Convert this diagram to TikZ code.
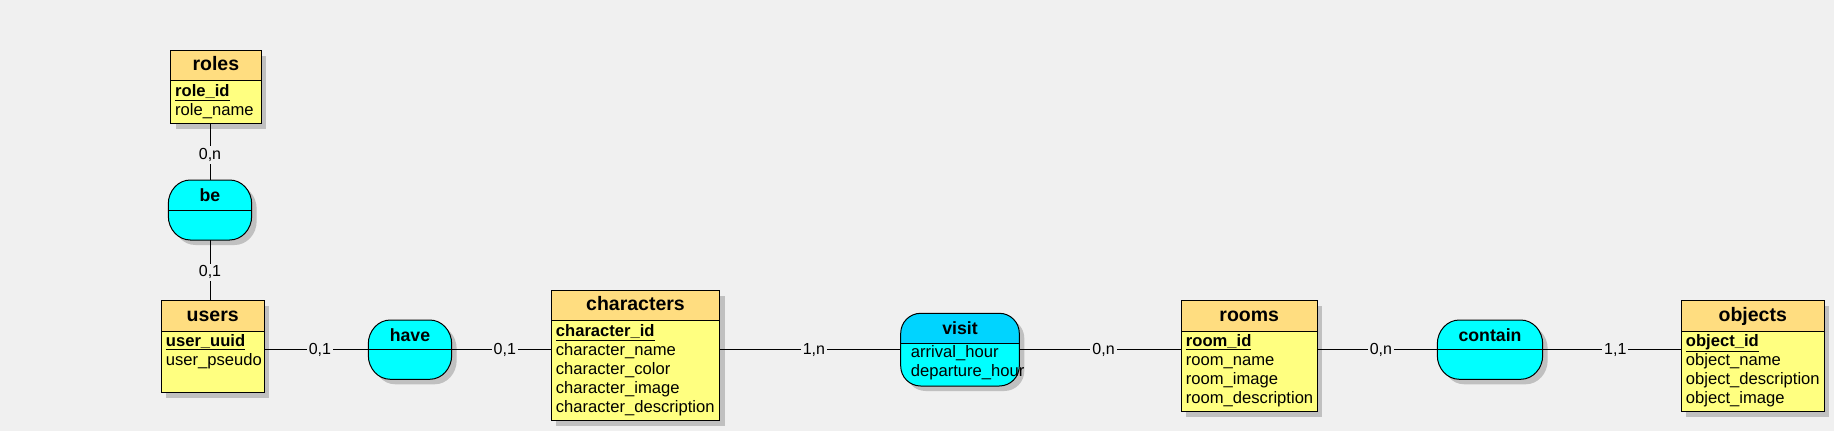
\documentclass[tikz,border=0pt]{standalone}
\usepackage{fontspec}
\setmainfont{Liberation Sans}
\usetikzlibrary{shadows,calc}
\definecolor{bg}{RGB}{240,240,240}
\definecolor{hdr}{RGB}{255,221,128}
\definecolor{bdy}{RGB}{255,255,128}
\definecolor{cy}{RGB}{0,255,255}
\definecolor{cyh}{RGB}{0,212,255}
\definecolor{shd}{RGB}{192,192,192}
\newcommand\pk[1]{\underline{\textbf{#1}}}
\newcommand\mcdent[6]{%
  \node[ebody, minimum width=#4pt, minimum height=#5pt] (#1) at (#2,#3) {};
  \node[ehead, minimum width=#4pt, minimum height=30.4pt] (#1-h) at (#1.north west) {};
  \node[etitle] (#1-t) at ($(#1.north)+(0,20.7)$) {#6};
}
% rectangle with elliptical corners: style, L, T, R, B, rx, ry
\newcommand\elrect[7]{%
  \path[#1] (#2+#6,#3) -- (#4-#6,#3)
    .. controls (#4-#6+0.5523*#6,#3) and (#4,#3+#7-0.5523*#7) .. (#4,#3+#7)
    -- (#4,#5-#7)
    .. controls (#4,#5-#7+0.5523*#7) and (#4-#6+0.5523*#6,#5) .. (#4-#6,#5)
    -- (#2+#6,#5)
    .. controls (#2+#6-0.5523*#6,#5) and (#2,#5-#7+0.5523*#7) .. (#2,#5-#7)
    -- (#2,#3+#7)
    .. controls (#2,#3+#7-0.5523*#7) and (#2+#6-0.5523*#6,#3) .. (#2+#6,#3) -- cycle;
}
% relation: name, L, T, R, B, title
\newcommand\mcdrel[6]{%
  \pgfmathsetmacro\rw{#4-#2}\pgfmathsetmacro\rh{#5-#3}%
  \pgfmathsetmacro\rcx{(#2+#4)/2}\pgfmathsetmacro\rcy{(#3+#5)/2}%
  \node[inner sep=0pt, minimum width=\rw pt, minimum height=\rh pt] (#1) at (\rcx,\rcy) {};
  \elrect{fill=shd}{#2+5}{#3+5}{#4+5}{#5+5}{22}{24}
  \elrect{draw, line width=1pt, fill=cy}{#2}{#3}{#4}{#5}{22}{24}
  \draw[line width=1pt] (#1.west) -- (#1.east);
  \node[rtitle] (#1-t) at ($(#1.north)+(0,21.2)$) {#6};
}
\begin{document}
\begin{tikzpicture}[x=1pt,y=-1pt,
  ebody/.style={draw, line width=1pt, fill=bdy, inner sep=0pt, anchor=north west,
    drop shadow={shadow xshift=5pt, shadow yshift=-5pt, fill=shd, opacity=1}},
  ehead/.style={draw, line width=1pt, fill=hdr, inner sep=0pt, anchor=north west},
  etitle/.style={anchor=base, inner sep=0pt, font=\fontsize{19.5}{22}\selectfont\bfseries},
  rtitle/.style={anchor=base, inner sep=0pt, font=\fontsize{17.7}{20}\selectfont\bfseries},
  attr/.style={anchor=base west, inner sep=0pt, font=\fontsize{16.6}{19}\selectfont},
  conn/.style={line width=1pt},
  card/.style={fill=bg, inner sep=2pt, font=\fontsize{16}{18}\selectfont}]
\fill[bg] (0,0) rectangle (1834,431);
\useasboundingbox (0,0) rectangle (1834,431);

% entities
\mcdent{roles}{170}{50}{90.7}{73.3}{roles}
\foreach \t [count=\i from 0] in {{\pk{role\_id}}, role\_name}
  \node[attr] (roles-a\i) at ($(roles-h.south west)+(5,15+19*\i)$) {\t};

\mcdent{users}{160.7}{300.3}{103}{91.7}{users}
\foreach \t [count=\i from 0] in {{\pk{user\_uuid}}, user\_pseudo}
  \node[attr] (users-a\i) at ($(users-h.south west)+(5,14.5+19*\i)$) {\t};

\mcdent{characters}{550.7}{290}{168.6}{130}{characters}
\foreach \t [count=\i from 0] in {{\pk{character\_id}}, character\_name, character\_color, character\_image, character\_description}
  \node[attr] (characters-a\i) at ($(characters-h.south west)+(5,15+19*\i)$) {\t};

\mcdent{rooms}{1180.7}{300.3}{136}{110.7}{rooms}
\foreach \t [count=\i from 0] in {{\pk{room\_id}}, room\_name, room\_image, room\_description}
  \node[attr] (rooms-a\i) at ($(rooms-h.south west)+(5,14.5+19*\i)$) {\t};

\mcdent{objects}{1680.7}{300.3}{143}{110.7}{objects}
\foreach \t [count=\i from 0] in {{\pk{object\_id}}, object\_name, object\_description, object\_image}
  \node[attr] (objects-a\i) at ($(objects-h.south west)+(5,14.5+19*\i)$) {\t};

% relations
\mcdrel{be}{168.3}{180}{251.7}{240}{be}
\mcdrel{have}{368.3}{320}{451.7}{379.3}{have}
\mcdrel{contain}{1437.3}{320}{1542.7}{379.3}{contain}

\node[inner sep=0pt, minimum width=118.6pt, minimum height=72.7pt] (visit) at (960,349.7) {};
\elrect{fill=shd}{905.7}{318.3}{1024.3}{391}{20}{20}
\begin{scope}
  \elrect{clip}{900.7}{313.3}{1019.3}{386}{20}{20}
  \fill[cy] (visit.north west) rectangle (visit.south east);
  \fill[cyh] (visit.north west) rectangle (visit.east |- 0,343.3);
\end{scope}
\elrect{draw, line width=1pt}{900.7}{313.3}{1019.3}{386}{20}{20}
\draw[line width=1pt] (visit.west |- 0,343.3) -- (visit.east |- 0,343.3);
\node[rtitle] (visit-t) at ($(visit.north)+(0,21.3)$) {visit};
\node[attr] (visit-a0) at (910.7,357.5) {arrival\_hour};
\node[attr] (visit-a1) at (910.7,376) {departure\_hour};

% connectors
\draw[conn] (roles.south -| be.north) -- node[card, yshift=-3pt] (c1) {0,n} (be.north);
\draw[conn] (be.south) -- node[card, yshift=-2pt] (c2) {0,1} (users.north -| be.south);
\draw[conn] (users.east |- have.west) -- node[card, xshift=3.5pt] (c3) {0,1} (have.west);
\draw[conn] (have.east) -- node[card, xshift=3.5pt] (c4) {0,1} (characters.west |- have.east);
\draw[conn] (characters.east |- visit.west) -- node[card, xshift=3.5pt] (c5) {1,n} (visit.west);
\draw[conn] (visit.east) -- node[card, xshift=3.5pt] (c6) {0,n} (rooms.west |- visit.east);
\draw[conn] (rooms.east |- contain.west) -- node[card, xshift=3.5pt] (c7) {0,n} (contain.west);
\draw[conn] (contain.east) -- node[card, xshift=3.5pt] (c8) {1,1} (objects.west |- contain.east);
\end{tikzpicture}
\end{document}
